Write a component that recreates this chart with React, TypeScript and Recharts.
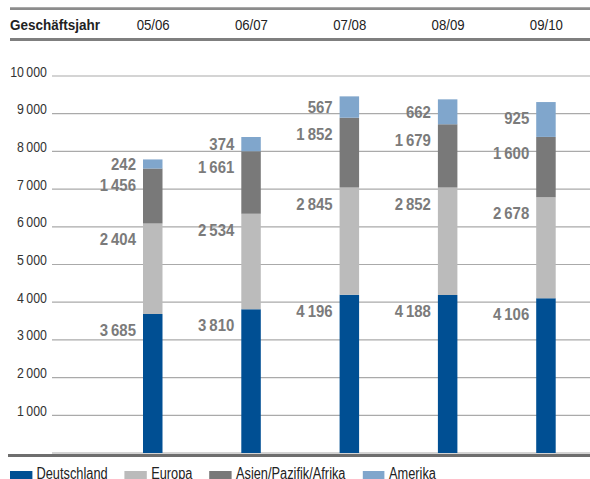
import React from 'react';
import { BarChart, Bar, XAxis, YAxis, CartesianGrid, LabelList, Legend } from 'recharts';

// Mitarbeiter nach Regionen, Geschäftsjahre 2005/06 bis 2009/10
const years = ['05/06', '06/07', '07/08', '08/09', '09/10'];
const deutschland = [3685, 3810, 4196, 4188, 4106];
const europa = [2404, 2534, 2845, 2852, 2678];
const asienPazifikAfrika = [1456, 1661, 1852, 1679, 1600];
const amerika = [242, 374, 567, 662, 925];
const yTicks = [1000, 2000, 3000, 4000, 5000, 6000, 7000, 8000, 9000, 10000];

const series = [
  { key: 'deutschland', name: 'Deutschland', color: '#004f93', values: deutschland },
  { key: 'europa', name: 'Europa', color: '#bbbbbb', values: europa },
  { key: 'asien', name: 'Asien/Pazifik/Afrika', color: '#797979', values: asienPazifikAfrika },
  { key: 'amerika', name: 'Amerika', color: '#80a6cc', values: amerika },
];

const data = years.map((year, i) => {
  const row: Record<string, string | number> = { year };
  series.forEach((s) => {
    row[s.key] = s.values[i];
  });
  return row;
});

const W = 590;
const H = 479;
const MARGIN = { top: 75, right: 0, bottom: 26, left: 8 };
const BASE_Y = H - MARGIN.bottom;

// Arial-compatible face, squeezed horizontally to a condensed look
const FONT = "'Liberation Sans', Arimo, Arial, sans-serif";

const fmt = (v: number) => {
  const s = String(Math.round(v));
  return s.replace(/\B(?=(\d{3})+(?!\d))/g, '\u2009');
};

type CTextProps = {
  x: number;
  y: number;
  sx: number;
  size: number;
  anchor?: 'start' | 'middle' | 'end';
  weight?: number;
  fill?: string;
  children: React.ReactNode;
};

const CText = ({ x, y, sx, size, anchor = 'start', weight = 400, fill = '#222', children }: CTextProps) => (
  <text
    transform={`translate(${x} ${y}) scale(${sx} 1)`}
    x={0}
    y={0}
    textAnchor={anchor}
    fontSize={size}
    fontWeight={weight}
    fill={fill}
    fontFamily={FONT}
  >
    {children}
  </text>
);

const HeaderTick = (props: any) => {
  const { x, payload } = props;
  return (
    <CText x={Number(x)} y={30} sx={0.88} size={15} anchor="middle">
      {payload.value}
    </CText>
  );
};

const YTick = (props: any) => {
  const { y, payload } = props;
  return (
    <CText x={47} y={Number(y) + 0.5} sx={0.86} size={14.4} anchor="end" fill="#333">
      {fmt(payload.value)}
    </CText>
  );
};

const ValueLabel = (props: any) => {
  const x = Number(props.x);
  const y = Number(props.y);
  const h = Number(props.height);
  const dy = Math.min(16, h / 2);
  return (
    <CText x={x - 7} y={y + dy + 6} sx={0.88} size={17} anchor="end" weight={700} fill="#7b7b7b">
      {fmt(Number(props.value))}
    </CText>
  );
};

const LEGEND_SX = 0.8;

const LegendContent = () => (
  <div
    style={{
      display: 'flex',
      alignItems: 'flex-start',
      fontFamily: FONT,
      fontSize: 16,
      lineHeight: '16px',
      color: '#222',
      whiteSpace: 'nowrap',
      transform: `scaleX(${LEGEND_SX})`,
      transformOrigin: '0 0',
    }}
  >
    {series.map((s) => (
      <div key={s.key} style={{ display: 'flex', alignItems: 'flex-start', marginRight: 17 / LEGEND_SX }}>
        <span style={{ display: 'inline-block', width: 22 / LEGEND_SX, height: 10, marginTop: 5, background: s.color }} />
        <span style={{ marginLeft: 4.5 / LEGEND_SX }}>{s.name}</span>
      </div>
    ))}
  </div>
);

export default function App() {
  return (
    <div style={{ position: 'absolute', left: 0, top: 0, width: W, height: H, overflow: 'hidden', background: '#fff' }}>
      <BarChart width={W} height={H} data={data} margin={MARGIN} barSize={19.5}>
        <CartesianGrid vertical={false} stroke="#aaaaaa" strokeWidth={1.2} />
        <XAxis
          dataKey="year"
          orientation="top"
          height={1}
          axisLine={false}
          tickLine={false}
          interval={0}
          padding={{ left: 52, right: -5.5 }}
          tick={<HeaderTick />}
        />
        <YAxis
          width={44}
          domain={[0, 10000]}
          ticks={yTicks}
          axisLine={false}
          tickLine={false}
          tick={<YTick />}
        />
        <Legend
          layout="horizontal"
          verticalAlign="middle"
          align="center"
          content={<LegendContent />}
          wrapperStyle={{ top: 466, left: 10, width: 580, height: 20 }}
        />
        {series.map((s) => (
          <Bar key={s.key} dataKey={s.key} name={s.name} stackId="a" fill={s.color} isAnimationActive={false}>
            <LabelList dataKey={s.key} content={<ValueLabel />} />
          </Bar>
        ))}
      </BarChart>
      <svg width={W} height={H} style={{ position: 'absolute', left: 0, top: 0, pointerEvents: 'none' }}>
        <line x1={10} x2={W} y1={8.7} y2={8.7} stroke="#8c8c8c" strokeWidth={2.7} />
        <line x1={10} x2={W} y1={39.5} y2={39.5} stroke="#7f7f7f" strokeWidth={3.2} />
        <CText x={10} y={30} sx={0.9} size={15} weight={700}>
          Geschäftsjahr
        </CText>
        <line x1={8} x2={W} y1={BASE_Y + 2.5} y2={BASE_Y + 2.5} stroke="#6e6e6e" strokeWidth={3} />
      </svg>
    </div>
  );
}
